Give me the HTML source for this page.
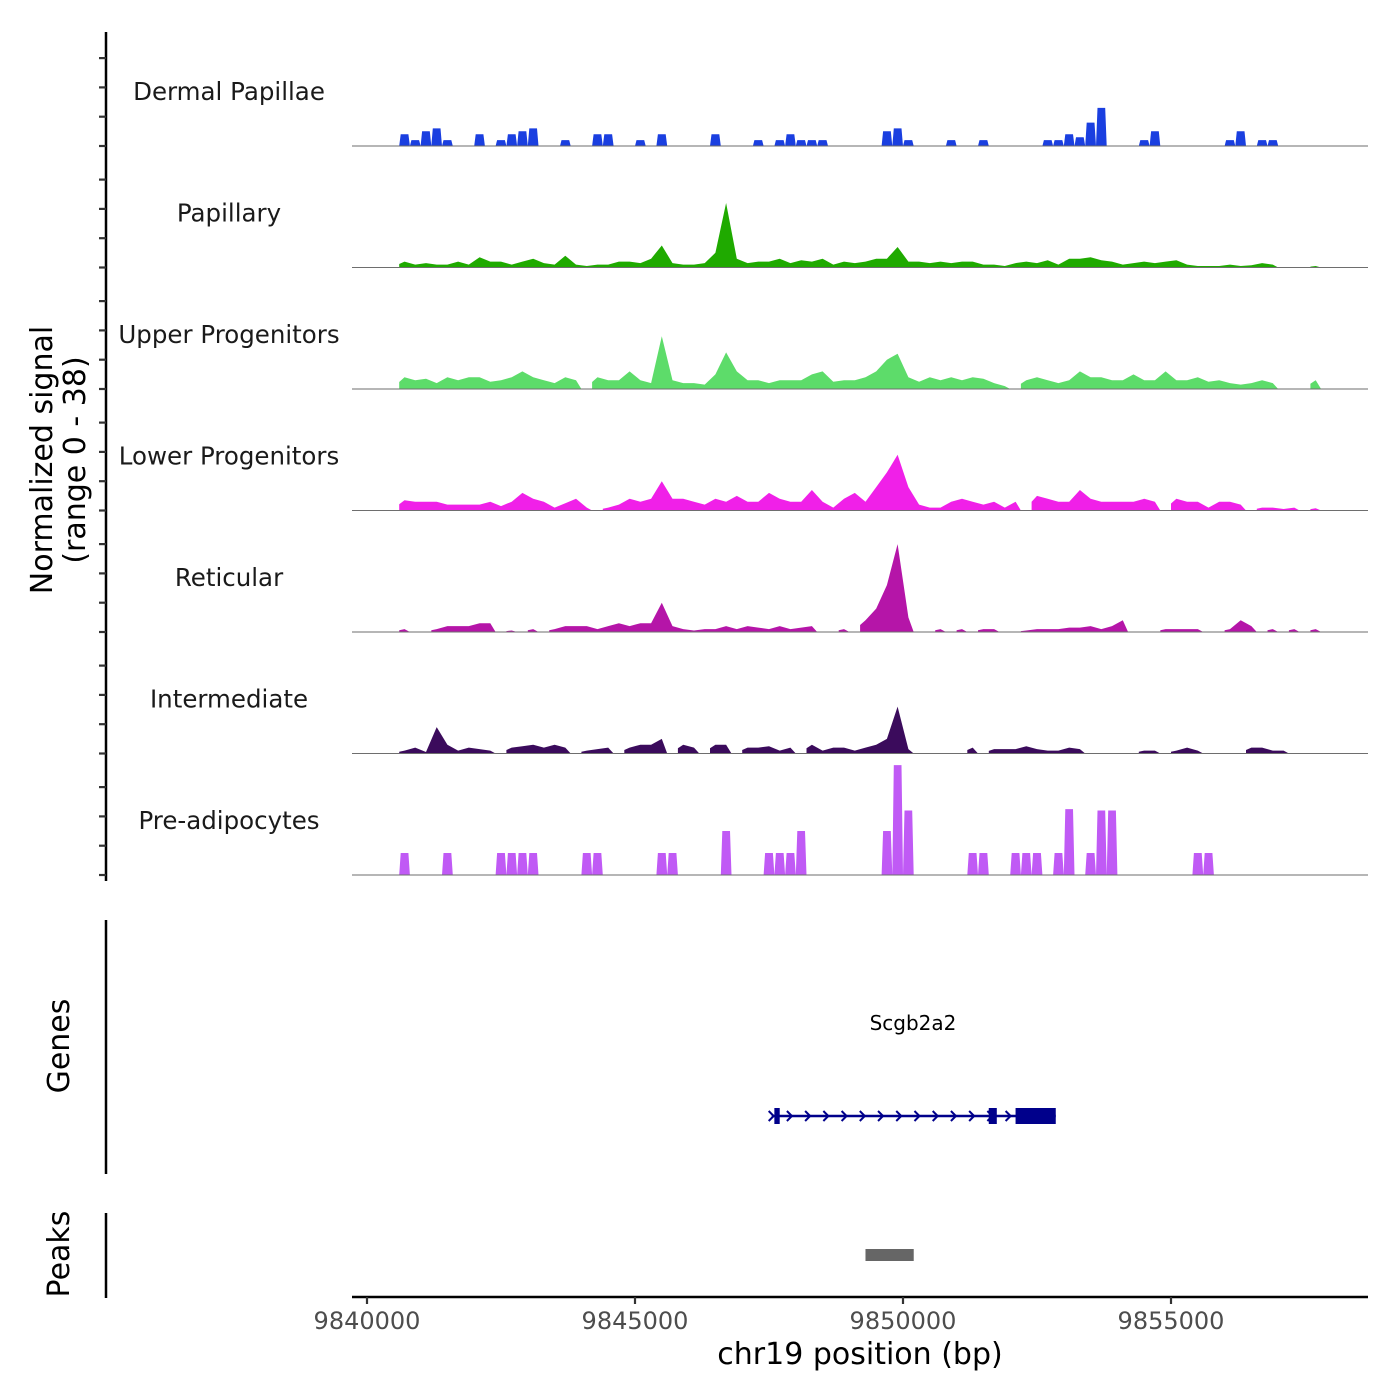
<!DOCTYPE html>
<html><head><meta charset="utf-8"><style>
html,body{margin:0;padding:0;background:#fff;}
svg{display:block;font-family:"DejaVu Sans","Liberation Sans",sans-serif;}
</style></head><body>
<svg id="chart" width="1400" height="1400" viewBox="0 0 1400 1400" xmlns="http://www.w3.org/2000/svg">
<rect width="1400" height="1400" fill="#fff"/>
<g id="tracks"></g>
<g id="yaxis"></g>
<text transform="translate(52,460) rotate(-90)" text-anchor="middle" font-size="30" fill="#000">Normalized signal</text>
<text transform="translate(85,460) rotate(-90)" text-anchor="middle" font-size="30" fill="#000">(range 0 - 38)</text>
<line x1="106" y1="920" x2="106" y2="1174" stroke="#000" stroke-width="2.5"/>
<text transform="translate(69,1046) rotate(-90)" text-anchor="middle" font-size="30" fill="#000">Genes</text>
<g id="gene"></g>
<line x1="106" y1="1213" x2="106" y2="1298" stroke="#000" stroke-width="2.5"/>
<text transform="translate(69,1254) rotate(-90)" text-anchor="middle" font-size="30" fill="#000">Peaks</text>
<g id="peaks"></g>
<g id="xaxis"></g>
<text x="860" y="1364" text-anchor="middle" font-size="30" fill="#000">chr19 position (bp)</text>
</svg>
<script>
const trackNames=["Dermal Papillae","Papillary","Upper Progenitors","Lower Progenitors","Reticular","Intermediate","Pre-adipocytes"];
const trackColors=["#1a3fe0","#1faa00","#5ddc6a","#f020e8","#b515a8","#3b0b5c","#c05af5"];
const trackStep=[true,false,false,false,false,false,true];
const binStart=9840600;
const binSize=200;
const dermalPapillae=[4,2,5,6,2,0,0,4,0,2,4,5,6,0,0,2,0,0,4,4,0,0,2,0,4,0,0,0,0,4,0,0,0,2,0,2,4,2,2,2,0,0,0,0,0,5,6,2,0,0,0,2,0,0,2,0,0,0,0,0,2,2,4,3,8,13,0,0,0,2,5,0,0,0,0,0,0,2,5,0,2,2,0,0,0,0];
const papillary=[2,1,1.5,1,1,2,1,3.5,2,2,1,2,3,1.5,1,4,1,0.5,1,1,2,2,1.5,3,7.5,1.5,1,1,1.5,5,22,3,1.5,2,2,3,1.5,2.5,2,3,1,2,1.5,2,3,3,7,2,2,1.5,2,1.5,2,2,1,1,0.5,1.5,2,1.5,2.5,1,3,3,3.5,2.5,2,1,1.5,2,1.5,2,2.5,1,0.5,0.5,0.5,1,0.5,0.8,1.5,1,0,0,0,0.5];
const upperProgenitors=[4,3,3.5,2,4,3,4,4,2.5,3,4,6,4,3,2,4,3,0,4,3,3,6,3,2,18,3,2,2,1.5,5,12.5,6,3,3,2,3,3,3,5,6,2.5,3,3,4,6,10,12,4,2.5,4,3,4,3,4,3.5,2,1,0,3,4,3,2,3,6,4,4,3,3,5,3,3,6,3,3,4,2.5,3,2,1.5,2,3,2,0,0,0,3];
const lowerProgenitors=[3.5,3,3,3,2,2,2,2,3,1.5,3,6,4,3,1,2.5,4,1,0,1,2,4,3,4,10,4,4,3,2,4,3,5,3,3,6,4,3,3,7,3,1,4,6,3,8,13,19,8,2,1,1,3,4,3,2,3,1,3,0,5,4,3,3,7,4,3,3,3,3,4,3,0,4,3,3,1,3,3,2,0,1,1,0.5,1,0,0.8];
const reticular=[1,0,0,1,2,2,2,3,3,0,0.5,0,1,0,1,2,2,2,1,2,3,2,3,3,10,2,1,0.5,1,1,2,1,2,1.5,1,2,1,1.5,2,0,0,1,0,4,8,16,30,5,0,0,1,0,1,0,1,1,0,0,0.5,1,1,1,1.5,1.5,2,1,2,4,0,0,0,1,1,1,1,0,0,1,4,2,0,1,0,1,0,1];
const intermediate=[1,2,0.5,9,3,1,2,1.5,1,0,2,2.5,3,2,3,2,0,1,1.5,2,0,2,3,3,5,0,3,2,0,3,3,0,2,2,2.5,1,2,0,3,1,2,2,1,2,3,5,16,1.5,0,0,0,0,0,2,0,1.5,1.5,1.5,2.5,1.5,1,1,2,1.5,0,0,0,0,0,1,1,0,1,2,1,0,0,0,0,2,2,1,1,0,0,0];
const preAdipocytes=[7.5,0,0,0,7.5,0,0,0,0,7.5,7.5,7.5,7.5,0,0,0,0,7.5,7.5,0,0,0,0,0,7.5,7.5,0,0,0,0,15,0,0,0,7.5,7.5,7.5,15,0,0,0,0,0,0,0,15,37.5,22,0,0,0,0,0,7.5,7.5,0,0,7.5,7.5,7.5,0,7.5,22.5,0,7.5,22,22,0,0,0,0,0,0,0,7.5,7.5,0,0,0,0,0,0,0,0,0,0];
const trackData=[dermalPapillae,papillary,upperProgenitors,lowerProgenitors,reticular,intermediate,preAdipocytes];
const yTicks=[0,10,20,30];
const xTickValues=[9840000,9845000,9850000,9855000];
const xTickLabels=["9840000","9845000","9850000","9855000"];
const geneName=["Scgb2a2"];
const geneStartEnd=[9847550,9852850];
const geneExons=[[9847600,9847700],[9851600,9851750],[9852100,9852850]];
const peakRegions=[[9849300,9850200]];

const NS="http://www.w3.org/2000/svg";
function mk(tag,attrs,parent){const e=document.createElementNS(NS,tag);for(const k in attrs)e.setAttribute(k,attrs[k]);parent.appendChild(e);return e;}
function xScale(bp){return 367+(bp-9840000)*0.0536;}
const baseline0=146, trackH=121.5, unitPx=2.93;
function yScale(t,v){return baseline0+t*trackH-v*unitPx;}

const gT=document.getElementById('tracks');
const gY=document.getElementById('yaxis');
const axLine=mk('line',{x1:106,y1:32,x2:106,y2:881,stroke:'#000','stroke-width':2.5},gY);


trackData.forEach((vals,t)=>{
  const base=yScale(t,0);
  const g=mk('g',{},gT);
  
  
  let d='';
  if(trackStep[t]){
    vals.forEach((v,i)=>{
      if(v<=0)return;
      const x0=xScale(binStart+i*binSize),x1=xScale(binStart+(i+1)*binSize);
      const y=yScale(t,v);
      d+=`M${x0.toFixed(1)},${base}L${(x0+1.5).toFixed(1)},${y.toFixed(1)}L${(x1-1.5).toFixed(1)},${y.toFixed(1)}L${x1.toFixed(1)},${base}Z`;
    });
  }else{
    let open=false;
    vals.forEach((v,i)=>{
      const xc=xScale(binStart+(i+0.5)*binSize);
      const x0=xScale(binStart+i*binSize),x1=xScale(binStart+(i+1)*binSize);
      if(v<=0){ if(open){d+=`L${x0.toFixed(1)},${base}Z`;open=false;} return;}
      const y=yScale(t,v);
      if(!open){d+=`M${x0.toFixed(1)},${base}L${x0.toFixed(1)},${yScale(t,v*0.6).toFixed(1)}`;open=true;}
      d+=`L${xc.toFixed(1)},${y.toFixed(1)}`;
      if(i===vals.length-1){d+=`L${x1.toFixed(1)},${base}Z`;open=false;}
    });
    if(open)d+=`L${xScale(binStart+vals.length*binSize).toFixed(1)},${base}Z`;
  }
  const p=mk('path',{d:d,fill:trackColors[t]},g);
  
  
  const bl=mk('line',{x1:352,y1:base,x2:1368,y2:base,stroke:'#6e6e6e','stroke-width':1},g);
  
  
  const lab=mk('text',{x:229,y:base-46,'text-anchor':'middle','font-size':24.5,fill:'#1a1a1a'},g);
  lab.textContent=trackNames[t];
  
  
  yTicks.forEach(v=>{
    const y=yScale(t,v);
    const tk=mk('line',{x1:99,y1:y,x2:106,y2:y,stroke:'#333','stroke-width':2.2},gY);
    
    
  });
});

const gG=document.getElementById('gene');
const gy=1116, navy='#00008b';
const gl=mk('line',{x1:xScale(geneStartEnd[0]),y1:gy,x2:xScale(geneStartEnd[1]),y2:gy,stroke:navy,'stroke-width':2.5},gG);


for(let bp=geneStartEnd[0];bp<geneExons[2][0];bp+=340){
  const x=xScale(bp);
  const c=mk('polyline',{points:`${x-3},${gy-5} ${x+2},${gy} ${x-3},${gy+5}`,fill:'none',stroke:navy,'stroke-width':2},gG);
  
  
}
geneExons.forEach(e=>{
  const x0=xScale(e[0]),x1=xScale(e[1]);
  const r=mk('rect',{x:x0,y:gy-8,width:x1-x0,height:16,fill:navy},gG);
  
  
});
const gn=mk('text',{x:913,y:1030,'text-anchor':'middle','font-size':20,fill:'#000'},gG);
gn.textContent=geneName[0];



const gP=document.getElementById('peaks');
peakRegions.forEach(p=>{
  const r=mk('rect',{x:xScale(p[0]),y:1249,width:xScale(p[1])-xScale(p[0]),height:12,fill:'#666'},gP);
  
  
});

const gX=document.getElementById('xaxis');
const xl=mk('line',{x1:352,y1:1297,x2:1368,y2:1297,stroke:'#000','stroke-width':2.5},gX);


xTickValues.forEach((v,i)=>{
  const x=xScale(v);
  const tk=mk('line',{x1:x,y1:1297,x2:x,y2:1304,stroke:'#333','stroke-width':2.2},gX);
  
  
  const tl=mk('text',{x:x,y:1329,'text-anchor':'middle','font-size':24,fill:'#4d4d4d'},gX);
  tl.textContent=xTickLabels[i];
  
  
});
</script>
</body></html>
